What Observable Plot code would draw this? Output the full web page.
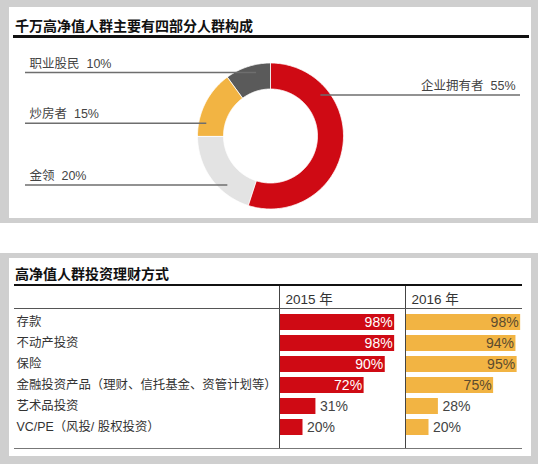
<!DOCTYPE html>
<html>
<head>
<meta charset="utf-8">
<script src="https://cdn.jsdelivr.net/npm/d3@7"></script>
<script src="https://cdn.jsdelivr.net/npm/@observablehq/plot@0.6"></script>
<style>
  body { margin: 0; background: #fff; }
  #root { position: relative; width: 544px; height: 464px; overflow: hidden; background: #fff;
          font-family: "Liberation Sans", "Noto Sans CJK SC", sans-serif; }
  .abs { position: absolute; }
  .frame { background: #cfcfcf; }
  .inner { background: #fff; }
  .title { font-size: 14px; line-height: 14px; font-weight: bold; color: #111; white-space: nowrap; }
  .thick { background: #111; }
</style>
</head>
<body>
<div id="root">
  <div class="abs frame" style="left:0;top:0;width:538px;height:223px"></div>
  <div class="abs inner" style="left:9px;top:7px;width:522px;height:211px"></div>
  <div class="abs title" style="left:15px;top:19px">千万高净值人群主要有四部分人群构成</div>
  <div class="abs thick" style="left:13px;top:35px;width:516px;height:2.5px"></div>
  <div class="abs" id="donut" style="left:9px;top:38px"></div>

  <div class="abs frame" style="left:0;top:253px;width:538px;height:211px"></div>
  <div class="abs inner" style="left:9px;top:258px;width:522px;height:198px"></div>
  <div class="abs title" style="left:15px;top:267px">高净值人群投资理财方式</div>
  <div class="abs thick" style="left:14px;top:283.5px;width:508px;height:2.5px"></div>
  <div class="abs" id="table" style="left:9px;top:286px"></div>
  <div class="abs" style="left:14px;top:308px;width:508px;height:1px;background:#555"></div>
  <div class="abs" style="left:14px;top:447.5px;width:508px;height:1.5px;background:#777"></div>
</div>
<script>
// ---------- data ----------
const groups = ["企业拥有者", "金领", "炒房者", "职业股民"];
const shares = [55, 20, 15, 10];

const categories = ["存款", "不动产投资", "保险", "金融投资产品（理财、信托基金、资管计划等）", "艺术品投资", "VC/PE（风投/ 股权投资）"];
const years = ["2015 年", "2016 年"];
const values2015 = [98, 98, 90, 72, 31, 20];
const values2016 = [98, 94, 95, 75, 28, 20];

// ---------- styles / layout ----------
const FONT = '"Liberation Sans", "Noto Sans CJK SC", sans-serif';
const donutPalette = ["#cf0a14", "#e3e3e3", "#f2b443", "#5a5a5a"];
const yearPalette = ["#cf0a14", "#f2b443"];
const D = {w: 522, h: 180, cx: 261, cy: 97.5, R: 73, r: 47};
const leaderFrac = [0.257, 0.32, 0.21, 0.656]; // where each leader line touches its slice
const leaderRadius = 0.89;

// ---------- donut ----------
const slices = groups.map((g, i) => ({group: g, share: shares[i]}));
const arcs = d3.pie().sort(null).value(d => d.share)(slices);
const inner = D.r / D.R;
const ringPts = [];
const anchors = [];
arcs.forEach((a, i) => {
  const g = a.data.group;
  const n = Math.max(2, Math.ceil((a.endAngle - a.startAngle) / (Math.PI / 180)));
  for (let k = 0; k <= n; k++) {
    const t = a.startAngle + (a.endAngle - a.startAngle) * k / n;
    ringPts.push({group: g, x: Math.sin(t), y: Math.cos(t)});
  }
  for (let k = n; k >= 0; k--) {
    const t = a.startAngle + (a.endAngle - a.startAngle) * k / n;
    ringPts.push({group: g, x: inner * Math.sin(t), y: inner * Math.cos(t)});
  }
  const t = a.startAngle + (a.endAngle - a.startAngle) * leaderFrac[i];
  anchors.push({
    label: `${g}\u00a0\u00a0${a.data.share}%`,
    x: leaderRadius * Math.sin(t),
    y: leaderRadius * Math.cos(t),
    right: Math.sin(t) > 0
  });
});
const xu = px => (px - D.cx) / D.R;   // pixel -> data unit helper for frame-relative ends
const leftA = anchors.filter(d => !d.right);
const rightA = anchors.filter(d => d.right);

const donut = Plot.plot({
  width: D.w, height: D.h, margin: 0,
  x: {domain: [xu(0), xu(D.w)], axis: null},
  y: {domain: [-(D.h - D.cy) / D.R, D.cy / D.R], axis: null},
  color: {domain: groups, range: donutPalette},
  style: {fontFamily: FONT, background: "transparent", overflow: "visible"},
  marks: [
    Plot.line(ringPts, {x: "x", y: "y", fill: "group", stroke: "white", strokeWidth: 0.8, curve: "linear-closed"}),
    Plot.ruleY(leftA, {y: "y", x1: xu(16), x2: "x", stroke: "#6e6e6e", strokeWidth: 1.6}),
    Plot.ruleY(rightA, {y: "y", x1: "x", x2: xu(D.w - 11), stroke: "#6e6e6e", strokeWidth: 1.6}),
    Plot.text(leftA, {y: "y", text: "label", frameAnchor: "left", dx: 20, dy: -5, lineAnchor: "bottom", textAnchor: "start", fontSize: 12.5, fill: "#444"}),
    Plot.text(rightA, {y: "y", text: "label", frameAnchor: "right", dx: -16, dy: -5, lineAnchor: "bottom", textAnchor: "end", fontSize: 12.5, fill: "#444"})
  ]
});
document.getElementById("donut").appendChild(donut);

// ---------- table of bars ----------
const rows = [];
categories.forEach((c, i) => {
  rows.push({cat: c, year: years[0], value: values2015[i]});
  rows.push({cat: c, year: years[1], value: values2016[i]});
});
const pxPerPct = 1.175;
const T = {w: 522, h: 163, ml: 270};
const colW = (T.w - T.ml) / years.length;

const table = Plot.plot({
  width: T.w, height: T.h,
  marginLeft: T.ml, marginRight: 0, marginTop: 0, marginBottom: 0,
  fx: {domain: years, padding: 0, axis: null},
  x: {domain: [0, colW / pxPerPct], axis: null},
  y: {domain: categories, range: [23, 153.5], paddingInner: 0.26, paddingOuter: 0.13},
  color: {domain: years, range: yearPalette},
  style: {fontFamily: FONT, background: "transparent", overflow: "visible"},
  marks: [
    Plot.ruleX([0], {stroke: "#444", strokeWidth: 1}),
    Plot.barX(rows, {x: "value", y: "cat", fx: "year", fill: "year", insetLeft: 1}),
    Plot.text(rows.filter(d => d.value >= 50 && d.year === years[0]),
      {x: "value", y: "cat", fx: "year", text: d => d.value + "%", textAnchor: "end", dx: -2, fill: "white", fontSize: 14}),
    Plot.text(rows.filter(d => d.value >= 50 && d.year === years[1]),
      {x: "value", y: "cat", fx: "year", text: d => d.value + "%", textAnchor: "end", dx: -2, fill: "#5b4b2e", fontSize: 14}),
    Plot.text(rows.filter(d => d.value < 50),
      {x: "value", y: "cat", fx: "year", text: d => d.value + "%", textAnchor: "start", dx: 4, fill: "#444", fontSize: 14}),
    Plot.text(years, {fx: d => d, text: d => d, frameAnchor: "top-left", lineAnchor: "bottom", dx: 6, dy: 17, fill: "#333", fontSize: 13.5}),
    Plot.axisY({tickSize: 0, textAnchor: "start", dx: -254, fontSize: 12.4, fill: "#333", label: null})
  ]
});
document.getElementById("table").appendChild(table);
</script>
</body>
</html>
